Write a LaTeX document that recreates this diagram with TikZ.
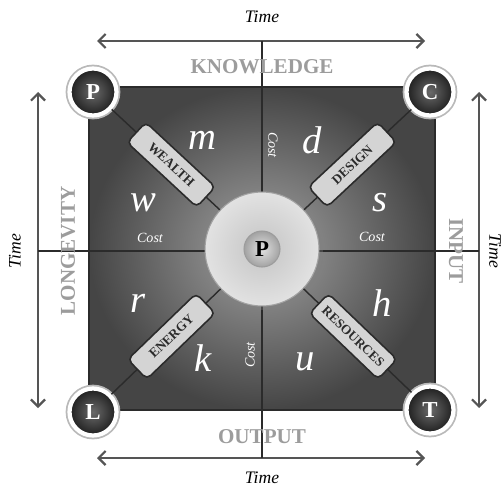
\documentclass[tikz,border=0pt]{standalone}
\usepackage{fontspec}
\setmainfont{Liberation Serif}
\usepackage{tikz}
\usetikzlibrary{arrows.meta,shadows}
\definecolor{qDark}{HTML}{454545}
\definecolor{qLight}{HTML}{A2A2A2}
\definecolor{qLine}{HTML}{2B2B2B}
\definecolor{qHead}{HTML}{9C9C9C}
\definecolor{qArrow}{HTML}{555555}
\definecolor{qBox}{HTML}{D4D4D4}
\definecolor{qBallIn}{HTML}{6A6A6A}
\definecolor{qBallOut}{HTML}{1E1E1E}
\definecolor{qHubIn}{HTML}{C4C4C4}
\definecolor{qHubOut}{HTML}{E2E2E2}

\begin{document}
\begin{tikzpicture}[x=0.02cm, y=0.02cm,
    corner/.style={circle, draw=white, line width=2.4pt, minimum size=0.94cm, inner sep=0pt,
      inner color=qBallIn, outer color=qBallOut, text=white, font=\bfseries\fontsize{13}{13}\selectfont,
      preaction={draw=gray!55, line width=4.4pt}},
    tag/.style={draw=qLine, line width=0.9pt, fill=qBox, rounded corners=3pt, sloped,
      minimum width=1.9cm, minimum height=0.55cm, inner sep=1pt, font=\bfseries\fontsize{7.5}{7.5}\selectfont},
    letter/.style={text=white, font=\itshape\fontsize{22}{22}\selectfont},
    cost/.style={text=white, font=\itshape\fontsize{8}{8}\selectfont},
    heading/.style={text=qHead, font=\bfseries\fontsize{12}{12}\selectfont},
    time/.style={font=\itshape\fontsize{10}{10}\selectfont},
    axis/.style={draw=qArrow, line width=1.3pt, {Straight Barb[length=4pt,width=8pt]}-{Straight Barb[length=4pt,width=8pt]}}]
    \useasboundingbox (0,0) rectangle (502,-486);

    % the square
    \shade[inner color=qLight, outer color=qDark] (89,-87) rectangle (435,-410);
    \draw[qLine, line width=0.8pt] (89,-87) rectangle (435,-410);

    % time axes
    \coordinate (topL) at (97,-41);   \coordinate (topR) at (425,-41);
    \coordinate (botL) at (97,-458);  \coordinate (botR) at (425,-458);
    \coordinate (lefT) at (38,-92);   \coordinate (lefB) at (38,-408);
    \coordinate (rigT) at (479,-92);  \coordinate (rigB) at (479,-408);
    \coordinate (topM) at (262,-41);  \coordinate (botM) at (262,-458);
    \coordinate (lefM) at (38,-251);  \coordinate (rigM) at (479,-251);
    \draw[axis] (topL) -- (topR);
    \draw[axis] (botL) -- (botR);
    \draw[axis] (lefT) -- (lefB);
    \draw[axis] (rigT) -- (rigB);
    \draw[qLine, line width=1.3pt] (topM) -- (botM);
    \draw[qLine, line width=1.3pt] (lefM) -- (rigM);

    \node[time] (timeTop) at (262,-17) {Time};
    \node[time] (timeBot) at (262,-478) {Time};
    \node[time, rotate=90] (timeLef) at (15,-251) {Time};
    \node[time, rotate=-90] (timeRig) at (495,-251) {Time};

    % side headings
    \node[heading] (know) at (262,-67) {KNOWLEDGE};
    \node[heading] (outp) at (262,-437) {OUTPUT};
    \node[heading, rotate=90] (long) at (68,-251) {LONGEVITY};
    \node[heading, rotate=-90] (inpu) at (456,-251) {INPUT};

    % hub and corners
    \node[circle, minimum size=2.28cm, inner color=qHubIn, outer color=qHubOut, draw=qLight, line width=0.6pt,
      drop shadow={opacity=0.35}] (hub) at (262,-249) {};
    \node[circle, minimum size=0.72cm, inner sep=0pt, inner color=qHubOut, outer color=qLight, draw=qHead, line width=0.6pt,
      font=\bfseries\fontsize{13}{13}\selectfont] (hubP) at (hub) {P};
    \node[corner] (cP) at (93,-92) {P};
    \node[corner] (cC) at (430,-92) {C};
    \node[corner] (cL) at (93,-412) {L};
    \node[corner] (cT) at (430,-410) {T};

    % diagonals with their tags
    \draw[qLine, line width=0.8pt] (cP) -- node[tag, pos=0.55] (wealth) {WEALTH} (hub);
    \draw[qLine, line width=0.8pt] (cC) -- node[tag, pos=0.55] (design) {DESIGN} (hub);
    \draw[qLine, line width=0.8pt] (cL) -- node[tag, pos=0.55] (energy) {ENERGY} (hub);
    \draw[qLine, line width=0.8pt] (cT) -- node[tag, pos=0.54] (resour) {RESOURCES} (hub);

    % quadrant letters
    \node[letter] (lm) at (202,-140) {m};
    \node[letter] (lw) at (143,-203) {w};
    \node[letter] (ld) at (312,-140) {d};
    \node[letter] (ls) at (380,-203) {s};
    \node[letter] (lr) at (138,-303) {r};
    \node[letter] (lk) at (203,-358) {k};
    \node[letter] (lh) at (382,-303) {h};
    \node[letter] (lu) at (305,-362) {u};
    \node[cost] (costW) at (150,-238) {Cost};
    \node[cost, rotate=-90] (costD) at (273,-145) {Cost};
    \node[cost] (costS) at (372,-237) {Cost};
    \node[cost, rotate=90] (costK) at (250,-355) {Cost};
\end{tikzpicture}
\end{document}
